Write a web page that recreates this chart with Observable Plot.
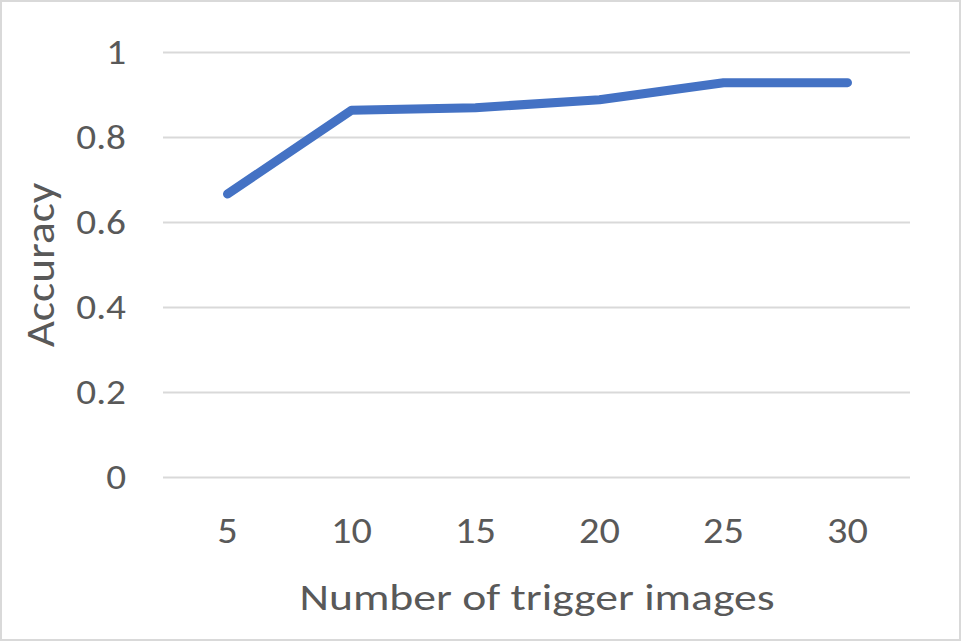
<!DOCTYPE html>
<html>
<head>
<meta charset="utf-8">
<script src="https://cdn.jsdelivr.net/npm/d3@7"></script>
<script src="https://cdn.jsdelivr.net/npm/@observablehq/plot@0.6"></script>
<style>
  html, body { margin: 0; padding: 0; background: #fff; }
  #wrap { position: relative; width: 961px; height: 641px; }
  #border { position: absolute; left: 0; top: 0; width: 961px; height: 641px; box-sizing: border-box; border: 2px solid #d9d9d9; pointer-events: none; }
  svg { display: block; }
</style>
</head>
<body>
<div id="wrap"><div id="border"></div></div>
<script>
const categories = [5, 10, 15, 20, 25, 30];
const accuracy = [0.667, 0.864, 0.870, 0.889, 0.929, 0.929];
const yTicks = [0, 0.2, 0.4, 0.6, 0.8, 1];
const yTickLabels = ["0", "0.2", "0.4", "0.6", "0.8", "1"];
const xTitle = "Number of trigger images";
const yTitle = "Accuracy";

const data = categories.map((c, i) => ({n: c, acc: accuracy[i]}));
const font = "Carlito, Calibri, Lato, sans-serif";
const textColor = "#595959";

const chart = Plot.plot({
  width: 961,
  height: 641,
  marginLeft: 163,
  marginRight: 51,
  marginTop: 52,
  marginBottom: 164,
  style: { fontFamily: font, color: textColor, background: "transparent", overflow: "visible" },
  x: { type: "point", domain: categories, padding: 0.5, label: null },
  y: { domain: [0, 1], label: null },
  marks: [
    Plot.ruleY(yTicks, { stroke: "#d9d9d9", strokeWidth: 2 }),
    Plot.axisY({ ticks: yTicks, tickSize: 0, tickPadding: 37.5, fontSize: 35, fill: textColor,
      tickFormat: (d) => yTickLabels[yTicks.indexOf(d)], label: null, className: "stretch" }),
    Plot.axisX({ tickSize: 0, tickPadding: 40, fontSize: 36, fill: textColor, label: null, className: "stretch" }),
    Plot.line(data, { x: "n", y: "acc", stroke: "#4472c4", strokeWidth: 9,
      strokeLinecap: "round", strokeLinejoin: "round" }),
    Plot.text([xTitle], { frameAnchor: "bottom", dy: 132, lineAnchor: "bottom",
      fontSize: 36.5, fill: textColor, className: "xtitle" }),
    Plot.text([yTitle], { frameAnchor: "left", dx: -123, rotate: -90, textAnchor: "middle",
      lineAnchor: "middle", fontSize: 42, fill: textColor, className: "ytitle" })
  ]
});
document.getElementById("wrap").insertBefore(chart, document.getElementById("border"));

// the reference is slightly wider-set than the available font: stretch texts
function stretch(sel, k) {
  d3.select(chart).selectAll(sel).each(function () {
    const w = this.getComputedTextLength();
    this.setAttribute("textLength", w * k);
    this.setAttribute("lengthAdjust", "spacingAndGlyphs");
  });
}
stretch("g.stretch text", 1.12);
stretch("g.xtitle text", 1.25);
stretch("g.ytitle text", 1.08);
</script>
</body>
</html>
